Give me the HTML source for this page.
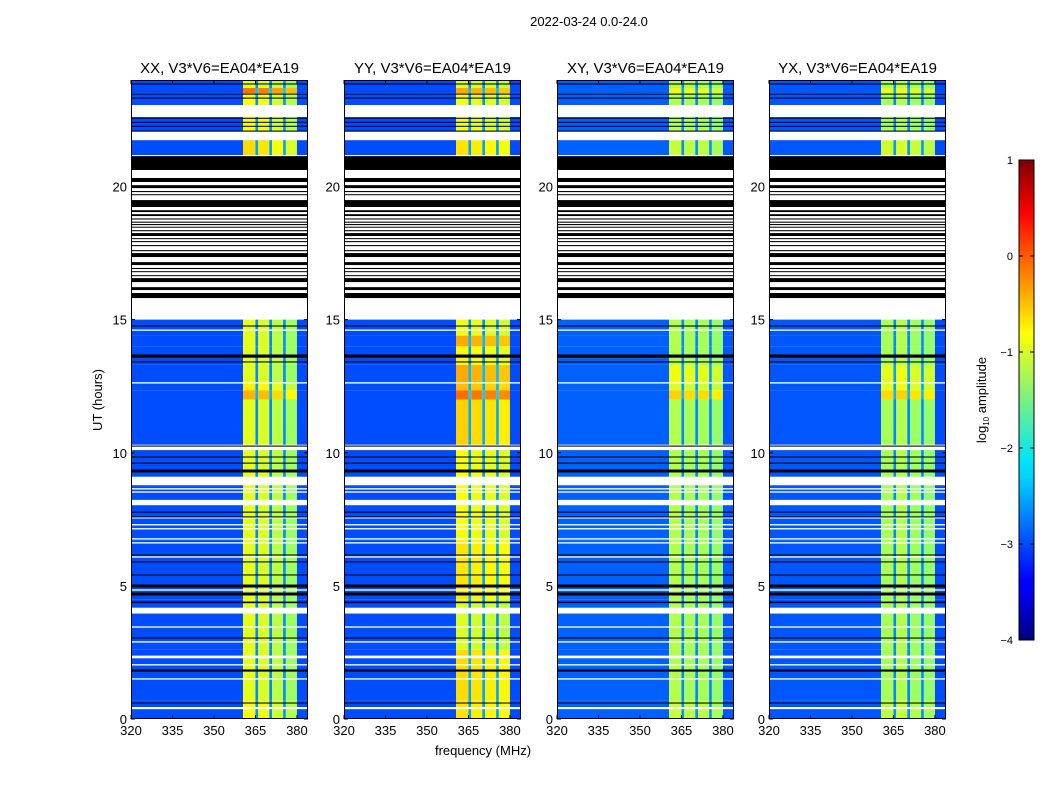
<!DOCTYPE html>
<html><head><meta charset="utf-8">
<style>
body{margin:0;background:#fff;}
svg{display:block;font-family:"Liberation Sans",sans-serif;}
</style></head>
<body>
<svg id="chart" width="1050" height="800" viewBox="0 0 1050 800" xmlns="http://www.w3.org/2000/svg">
<defs>
<linearGradient id="jet" x1="0" y1="1" x2="0" y2="0">
<stop offset="0" stop-color="#00007f"/>
<stop offset="0.11" stop-color="#0000ff"/>
<stop offset="0.125" stop-color="#0000ff"/>
<stop offset="0.34" stop-color="#00d4ff"/>
<stop offset="0.375" stop-color="#00e5f8"/>
<stop offset="0.64" stop-color="#ffff00"/>
<stop offset="0.66" stop-color="#ffea00"/>
<stop offset="0.89" stop-color="#ff0000"/>
<stop offset="1" stop-color="#7f0000"/>
</linearGradient>
</defs>
<text x="589" y="26" font-size="13" text-anchor="middle">2022-03-24 0.0-24.0</text>
<text x="483" y="755" font-size="13" text-anchor="middle">frequency (MHz)</text>
<text x="0" y="0" font-size="13" text-anchor="middle" transform="translate(102,400) rotate(-90)">UT (hours)</text>
<g id="panels"></g>
<g id="cbar"></g>
</svg>
<script>
// ---- data ----
const panelTitles = ["XX, V3*V6=EA04*EA19","YY, V3*V6=EA04*EA19","XY, V3*V6=EA04*EA19","YX, V3*V6=EA04*EA19"];
const freqEdges = [320,360.5,365,366,370,371,375,376,380,384];
const levelsXX = [-3.0,-1.0,-2.7,-1.05,-2.7,-1.2,-2.7,-1.35,-3.0];
const levelsYY = [-3.0,-1.05,-2.7,-1.1,-2.7,-1.15,-2.7,-1.2,-3.0];
const levelsXY = [-2.9,-1.25,-2.7,-1.3,-2.7,-1.3,-2.7,-1.4,-2.95];
const levelsYX = [-2.95,-1.3,-2.7,-1.25,-2.7,-1.35,-2.7,-1.4,-3.0];
const rowStart = [0,0.7,2.6,4.5,6.7,10.3,12.0,12.35,12.6,13.3,14.0,14.4,21.18,22.08,23.06,23.5,23.7];
const rowEnd   = [0.7,2.6,4.5,6.7,10.3,12.0,12.35,12.6,13.3,14.0,14.4,15.0,21.74,22.61,23.5,23.7,24];
const boostXX = [0.1,0,0,0,0,0,0.5,0.2,0,0,0,0,0.3,0.1,0.1,0.8,0];
const boostYY = [0.3,0.35,0,0.3,0.15,0.4,0.9,0.5,0.6,0.2,0.6,0.1,0.3,0.1,0.1,0.6,0];
const boostXY = [0.1,0,0,0,0,0,0.6,0.2,0.3,0,0,0,0.1,0,0,0.3,0];
const boostYX = [0.1,0,0,0,0,0,0.6,0.3,0.3,0,0,0,0.2,0,0,0.3,0];
const whiteGaps = [[0.37,0.45],[1.48,1.53],[2.01,2.06],[2.28,2.38],[2.87,2.92],[3.43,3.48],[3.96,4.18],[4.82,4.87],[6.06,6.11],[6.59,6.64],[6.74,6.79],[7.12,7.17],[7.27,7.32],[7.53,7.58],[8.03,8.23],[8.5,8.55],[8.62,8.67],[8.78,9.1],[10.1,10.3],[12.6,12.65],[14.58,14.63]];
const blackFlags = [[0.58,0.62],[1.78,1.86],[3.02,3.06],[4.35,4.41],[4.64,4.75],[4.94,5.05],[5.39,5.43],[5.88,5.92],[6.14,6.18],[7.57,7.61],[7.75,7.79],[9.26,9.37],[9.59,9.63],[9.82,9.86],[10.23,10.27],[13.39,13.43],[13.57,13.69],[14.74,14.78],
 [15.81,16.0],[16.11,16.22],[16.41,16.56],[16.64,16.67],[16.79,16.82],[16.9,16.94],[17.05,17.16],[17.35,17.5],[17.57,17.61],[17.76,17.8],[17.91,17.95],[18.03,18.06],[18.14,18.25],[18.32,18.36],[18.46,18.49],[18.55,18.59],[18.64,18.68],[18.76,18.8],[18.89,18.96],[19.04,19.11],[19.23,19.49],[19.68,19.71],[19.79,19.83],[19.94,20.05],[20.17,20.32],[20.62,21.14],[22.06,22.1],[22.25,22.28],[22.4,22.43],[22.55,22.58],[23.3,23.34],[23.45,23.49],[23.83,23.87]];
const xTicks = [320,335,350,365,380];
const yTicks = [0,5,10,15,20];
const cbarTicks = [-4,-3,-2,-1,0,1];

// ---- layout ----
const panelX = [131,344,557,769], PW = 177, TOP = 80, BOT = 719;
const levels = [levelsXX,levelsYY,levelsXY,levelsYX];
const boosts = [boostXX,boostYY,boostXY,boostYX];
const NS = "http://www.w3.org/2000/svg";
function el(tag, attrs, parent){const e=document.createElementNS(NS,tag);for(const k in attrs)e.setAttribute(k,attrs[k]);parent.appendChild(e);return e;}
function xScale(p,f){return panelX[p]+(f-320)/64*PW;}
function yScale(h){return BOT-(h/24)*(BOT-TOP);}
function clip(v){return Math.max(0,Math.min(1,v));}
function jet(v){const t=clip((v+4)/5);const r=clip(1.5-Math.abs(4*t-3)),g=clip(1.5-Math.abs(4*t-2)),b=clip(1.5-Math.abs(4*t-1));return `rgb(${Math.round(r*255)},${Math.round(g*255)},${Math.round(b*255)})`;}
const root = document.getElementById('panels');
for(let p=0;p<4;p++){
  const g=el('g',{},root);
  
  
  for(let r=0;r<rowStart.length;r++){
    for(let c=0;c<freqEdges.length-1;c++){
      const band = c>=1 && c<=7;
      let v = levels[p][c] + (band ? (c%2===1 ? boosts[p][r] : boosts[p][r]*0.4) : 0);
      const x0=xScale(p,freqEdges[c]), x1=xScale(p,freqEdges[c+1]);
      const y0=yScale(rowEnd[r]), y1=yScale(rowStart[r]);
      const rc=el('rect',{x:x0,y:y0,width:x1-x0,height:y1-y0,fill:jet(v)},g);
      
      
    }
  }
  for(const w of whiteGaps){
    const rc=el('rect',{x:panelX[p],y:yScale(w[1]),width:PW,height:yScale(w[0])-yScale(w[1]),fill:'#fff'},g);
    
    
  }
  for(const k of blackFlags){
    const rc=el('rect',{x:panelX[p],y:yScale(k[1]),width:PW,height:Math.max(1,yScale(k[0])-yScale(k[1])),fill:'#000'},g);
    
    
  }
  const fr=el('rect',{x:panelX[p]+0.5,y:TOP+0.5,width:PW-1,height:BOT-TOP-1,fill:'none',stroke:'#000','stroke-width':1},g);
  
  
  const tt=el('text',{x:panelX[p]+PW/2,y:73,'font-size':15,'text-anchor':'middle'},g);
  tt.textContent=panelTitles[p];
  
  
  for(const f of xTicks){
    const x=xScale(p,f);
    el('line',{x1:x,y1:BOT,x2:x,y2:BOT-4,stroke:'#000'},g);
    el('line',{x1:x,y1:TOP,x2:x,y2:TOP+4,stroke:'#000'},g);
    const t=el('text',{x:x,y:BOT+16,'font-size':13,'text-anchor':'middle'},g);
    t.textContent=f;
    
    
  }
  for(const h of yTicks){
    const y=yScale(h);
    el('line',{x1:panelX[p],y1:y,x2:panelX[p]+4,y2:y,stroke:'#000'},g);
    el('line',{x1:panelX[p]+PW,y1:y,x2:panelX[p]+PW-4,y2:y,stroke:'#000'},g);
    const t=el('text',{x:panelX[p]-4,y:y+5,'font-size':13,'text-anchor':'end'},g);
    t.textContent=h;
    
    
  }
}
// colorbar
const cb=document.getElementById('cbar');
const CX=1019,CW=15,CT=160,CB=640;
const bar=el('rect',{x:CX,y:CT,width:CW,height:CB-CT,fill:'url(#jet)',stroke:'#000','stroke-width':1},cb);


for(const v of cbarTicks){
  const y=CB-(v+4)/5*(CB-CT);
  el('line',{x1:CX,y1:y,x2:CX+4,y2:y,stroke:'#000'},cb);
  el('line',{x1:CX+CW,y1:y,x2:CX+CW-4,y2:y,stroke:'#000'},cb);
  const t=el('text',{x:CX-6,y:y+4,'font-size':11,'text-anchor':'end'},cb);
  t.textContent=v<0?'\u2212'+(-v):String(v);
  
  
}
const lbl=el('text',{'font-size':13,'text-anchor':'middle',transform:'translate(986,400) rotate(-90)'},cb);
lbl.innerHTML='log<tspan font-size="8" dy="3">10</tspan><tspan dy="-3"> amplitude</tspan>';


</script>
</body></html>
